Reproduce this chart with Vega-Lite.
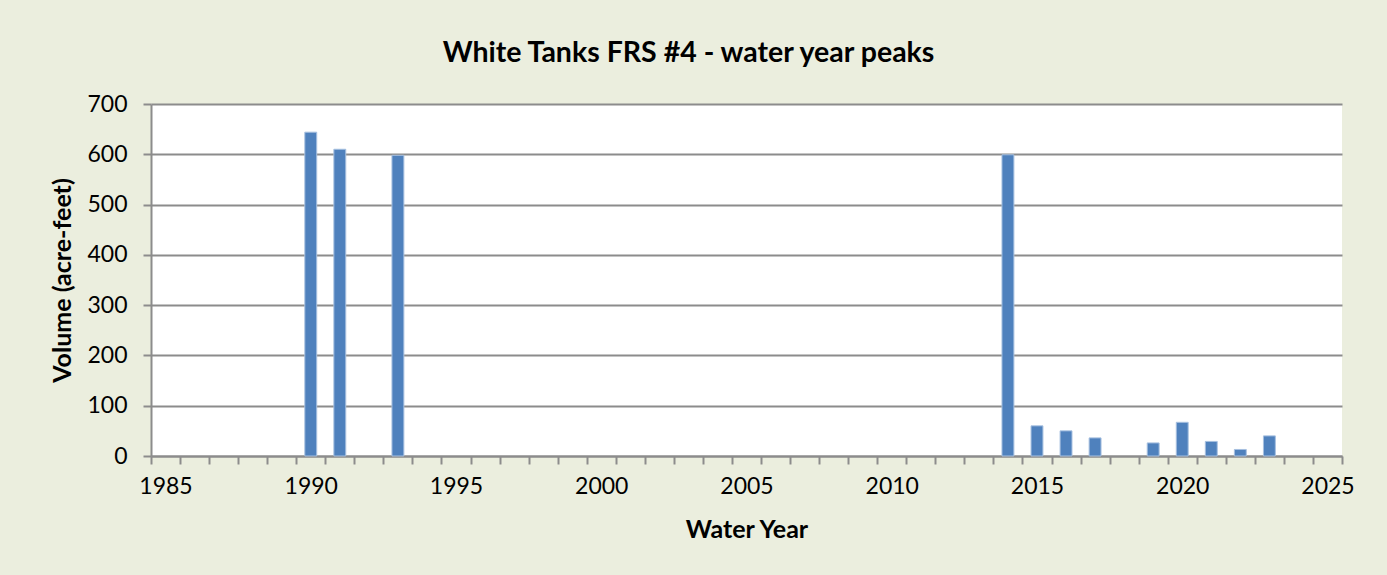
{
  "$schema": "https://vega.github.io/schema/vega-lite/v6.json",
  "autosize": "none",
  "width": 1191,
  "height": 352,
  "padding": {"left": 151, "top": 104, "right": 45, "bottom": 119},
  "background": "#EBEEDE",
  "title": {
    "text": "White Tanks FRS #4 - water year peaks",
    "font": "Lato",
    "fontSize": 28.5,
    "fontWeight": "bold",
    "color": "#000000",
    "anchor": "middle",
    "dx": -58,
    "baseline": "alphabetic",
    "offset": 3
  },
  "data": {
    "values": [
      {"year": 1990, "volume": 644},
      {"year": 1991, "volume": 610},
      {"year": 1993, "volume": 598},
      {"year": 2014, "volume": 599},
      {"year": 2015, "volume": 60},
      {"year": 2016, "volume": 50},
      {"year": 2017, "volume": 36},
      {"year": 2019, "volume": 26},
      {"year": 2020, "volume": 67},
      {"year": 2021, "volume": 29},
      {"year": 2022, "volume": 13},
      {"year": 2023, "volume": 40}
    ]
  },
  "mark": {"type": "bar", "color": "#4F81BD", "width": {"band": 0.41}, "stroke": "#A7C0E0", "strokeWidth": 1},
  "encoding": {
    "x": {
      "field": "year",
      "type": "ordinal",
      "scale": {
        "domain": [1985,1986,1987,1988,1989,1990,1991,1992,1993,1994,1995,1996,1997,1998,1999,2000,2001,2002,2003,2004,2005,2006,2007,2008,2009,2010,2011,2012,2013,2014,2015,2016,2017,2018,2019,2020,2021,2022,2023,2024,2025],
        "paddingInner": 0,
        "paddingOuter": 0
      },
      "axis": {
        "title": "Water Year",
        "titleFont": "Lato",
        "titleFontSize": 25,
        "titleFontWeight": "bold",
        "titleColor": "#000000",
        "titlePadding": 19,
        "labelFont": "Lato",
        "labelFontSize": 23,
        "labelColor": "#000000",
        "labelAngle": 0,
        "labelPadding": 11,
        "labelOverlap": false,
        "labelExpr": "datum.value % 5 === 0 ? datum.label : ''",
        "tickBand": "extent",
        "tickSize": 8,
        "tickColor": "#8C8C8C",
        "tickWidth": 2,
        "domainColor": "#8C8C8C",
        "domainWidth": 2,
        "grid": false
      }
    },
    "y": {
      "field": "volume",
      "type": "quantitative",
      "scale": {"domain": [0, 700], "nice": false},
      "axis": {
        "values": [0, 100, 200, 300, 400, 500, 600, 700],
        "title": "Volume (acre-feet)",
        "titleFont": "Lato",
        "titleFontSize": 25,
        "titleFontWeight": "bold",
        "titleColor": "#000000",
        "titlePadding": 11,
        "labelFont": "Lato",
        "labelFontSize": 23,
        "labelColor": "#000000",
        "labelPadding": 16,
        "tickSize": 8,
        "tickColor": "#8C8C8C",
        "tickWidth": 2,
        "domainColor": "#8C8C8C",
        "domainWidth": 2,
        "grid": true,
        "gridColor": "#8C8C8C",
        "gridWidth": 2
      }
    }
  },
  "config": {"view": {"fill": "#FFFFFF", "stroke": null}}
}
